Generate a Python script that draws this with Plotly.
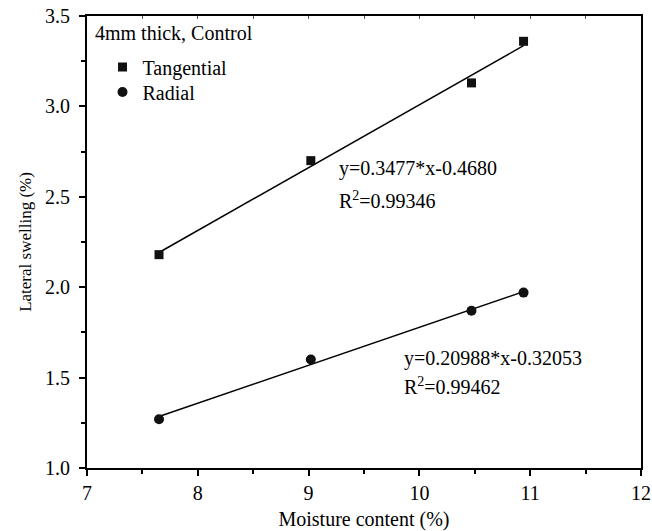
import plotly.graph_objects as go

moisture = [7.65, 9.02, 10.47, 10.94]
tangential = [2.18, 2.70, 3.13, 3.36]
radial = [1.27, 1.60, 1.87, 1.97]

fit_slopes = {"Tangential": 0.3477, "Radial": 0.20988}
fit_intercepts = {"Tangential": -0.4680, "Radial": -0.32053}
fit_labels = {"Tangential": ("y=0.3477*x-0.4680", "R<sup>2</sup>=0.99346"),
              "Radial": ("y=0.20988*x-0.32053", "R<sup>2</sup>=0.99462")}

x_ticks = [7, 8, 9, 10, 11, 12]
y_ticks = [1.0, 1.5, 2.0, 2.5, 3.0, 3.5]

font_family = "Liberation Serif"
fig = go.Figure()

xs = [min(moisture), max(moisture)]
for name in ["Tangential", "Radial"]:
    m, b = fit_slopes[name], fit_intercepts[name]
    fig.add_trace(go.Scatter(x=xs, y=[m * v + b for v in xs], mode="lines",
                             line=dict(color="black", width=1.5), showlegend=False, hoverinfo="skip"))

fig.add_trace(go.Scatter(x=moisture, y=tangential, mode="markers", name="Tangential",
                         legend="legend",
                         marker=dict(symbol="square", size=9, color="#111111")))
fig.add_trace(go.Scatter(x=moisture, y=radial, mode="markers", name="Radial",
                         legend="legend2",
                         marker=dict(symbol="circle", size=10, color="#111111")))

# invisible trace to carry the top axis (inward minor ticks)
fig.add_trace(go.Scatter(x=moisture, y=tangential, xaxis="x2", mode="markers",
                         marker=dict(opacity=0), showlegend=False, hoverinfo="skip"))

ann = [
    dict(x=9.26, y=2.655, text=fit_labels["Tangential"][0]),
    dict(x=9.26, y=2.48, text=fit_labels["Tangential"][1]),
    dict(x=9.845, y=1.605, text=fit_labels["Radial"][0]),
    dict(x=9.845, y=1.455, text=fit_labels["Radial"][1]),
]
for a in ann:
    fig.add_annotation(x=a["x"], y=a["y"], text=a["text"], showarrow=False,
                       xref="x", yref="y", xanchor="left", yanchor="middle",
                       font=dict(family=font_family, size=20, color="black"))

fig.add_annotation(x=0.011, y=0.962, xref="paper", yref="paper", xanchor="left", yanchor="middle",
                   text="4mm thick, Control", showarrow=False,
                   font=dict(family=font_family, size=20, color="black"))

leg_common = dict(xanchor="left", yanchor="middle", font=dict(size=20),
                  bgcolor="rgba(0,0,0,0)")

fig.update_layout(
    width=652, height=531,
    margin=dict(l=87, r=11, t=16, b=63),
    paper_bgcolor="white", plot_bgcolor="white",
    font=dict(family=font_family, size=20, color="black"),
    legend=dict(x=0.028, y=0.887, **leg_common),
    legend2=dict(x=0.028, y=0.832, **leg_common),
    xaxis=dict(range=[7, 12], tickvals=x_ticks, ticktext=[str(v) for v in x_ticks],
               automargin=False,
               showgrid=False, zeroline=False, showline=True, linecolor="black", linewidth=2,
               mirror=True, ticks="outside", ticklen=6, tickwidth=1.5, tickcolor="black",
               minor=dict(dtick=0.5, ticks="outside", ticklen=4, tickwidth=1.5, tickcolor="black"),
               title=dict(text="Moisture content (%)", font=dict(size=20), standoff=14),
               tickfont=dict(size=20)),
    xaxis2=dict(range=[7, 12], overlaying="x", side="top", showgrid=False, zeroline=False,
                automargin=False,
                showline=False, showticklabels=False, ticks="inside", ticklen=3, tickwidth=1,
                tickcolor="#555555", tickvals=[7.5, 8, 8.5, 9, 9.5, 10, 10.5, 11, 11.5]),
    yaxis=dict(range=[1.0, 3.5], tickvals=y_ticks, ticktext=[f"{v:.1f}" for v in y_ticks],
               automargin=False,
               showgrid=False, zeroline=False, showline=True, linecolor="black", linewidth=2,
               mirror=True, ticks="outside", ticklen=6, tickwidth=1.5, tickcolor="black",
               ticklabelstandoff=5,
               minor=dict(dtick=0.25, ticks="outside", ticklen=4, tickwidth=1.5, tickcolor="black"),
               title=dict(text="Lateral swelling (%)", font=dict(size=17), standoff=9),
               tickfont=dict(size=20)),
)

fig.write_html("out.html", config={"displayModeBar": False},
               post_script="document.body.style.margin='0px';")
